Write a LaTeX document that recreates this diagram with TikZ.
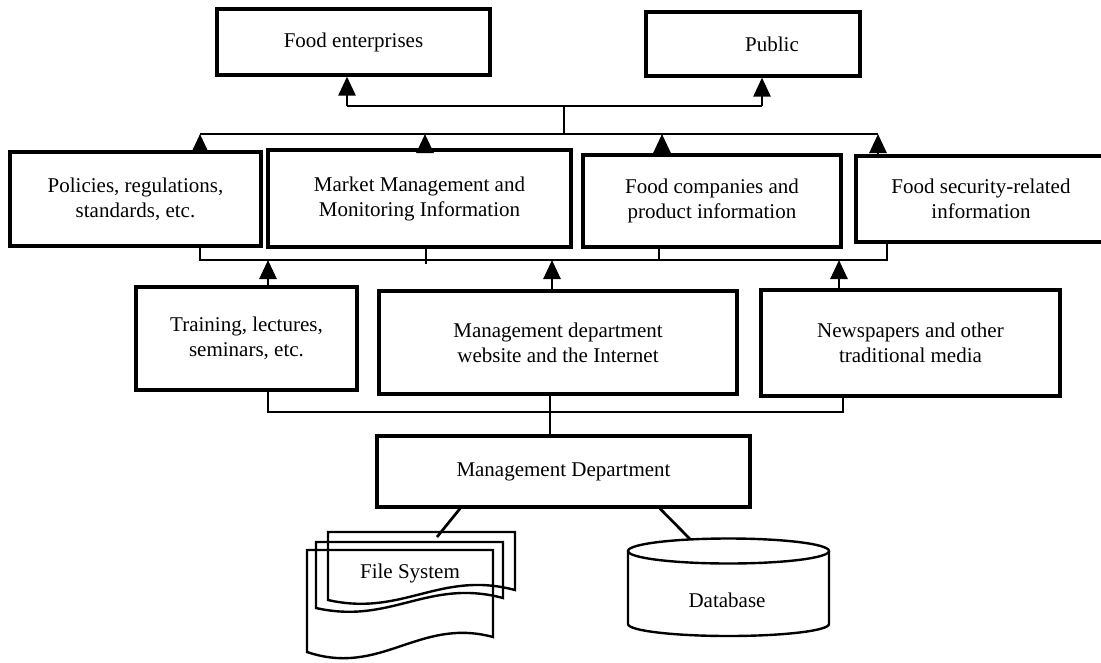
\documentclass[tikz,border=0pt]{standalone}
\usepackage{fontspec}
\setmainfont{Liberation Serif}
\usetikzlibrary{arrows.meta}
\begin{document}
\begin{tikzpicture}[x=1pt,y=-1pt,
  txt/.style={font=\fontsize{21}{25}\selectfont, align=center, inner sep=0pt},
  box/.style={txt, draw, line width=3.2pt},
  link/.style={line width=2.7pt},
  up/.style={line width=2.7pt, -{Triangle[length=19pt,width=17pt]}},
  shapeline/.style={line width=2.4pt}
]
\useasboundingbox (0,0) rectangle (1101,662);

% top row
\node[box, minimum width=273pt, minimum height=66pt] (fe) at (353.5,42) {Food enterprises};
\node[box, minimum width=214pt, minimum height=64pt] (pub) at (753,44) {\hspace*{38pt}Public};

% information row
\node[box, minimum width=251pt, minimum height=94pt] (pol) at (135.5,199) {Policies, regulations,\\standards, etc.};
\node[box, line width=4.2pt, minimum width=303pt, minimum height=97pt] (mkt) at (419.5,198.5) {Market Management and\\Monitoring Information};
\node[box, minimum width=258pt, minimum height=92pt] (fco) at (712,201) {Food companies and\\product information};
\node[box, minimum width=250pt, minimum height=86pt] (fsec) at (981,199) {Food security-related\\information};

% channel row
\node[box, minimum width=221pt, minimum height=103pt] (trn) at (246.5,338.5) {Training, lectures,\\seminars, etc.};
\node[box, minimum width=358pt, minimum height=103pt] (web) at (558,342.5) {Management department\\website and the Internet};
\node[box, minimum width=299pt, minimum height=106pt] (news) at (910.5,343) {Newspapers and other\\traditional media};

% management department
\node[box, minimum width=373pt, minimum height=71pt] (md) at (563.5,471.5) {Management Department};

% bus 1 (to top row)
\coordinate (b1l) at (347,106);
\coordinate (b1r) at (762,106);
\coordinate (b1m) at (564,106);
\draw[link] (b1l) -- (b1r);
\draw[up] (b1l) -- (b1l |- fe.south);
\draw[up] (b1r) -- (b1r |- pub.south);

% bus 2
\coordinate (a1) at (200,134);
\coordinate (a2) at (425,134);
\coordinate (a3) at (662,134);
\coordinate (a4) at (878,134);
\draw[link] (a1) -- (a4);
\draw[link] (b1m) -- (b1m |- a1);
\draw[up] (pol.north -| a1) -- (a1);
\draw[up] (mkt.north -| a2) -- (a2);
\draw[up] (fco.north -| a3) -- (a3);
\draw[up] (fsec.north -| a4) -- (a4);

% bus 3
\coordinate (c1) at (200,260);
\coordinate (c2) at (426,260);
\coordinate (c3) at (659,260);
\coordinate (c4) at (887,260);
\coordinate (d1) at (268,260);
\coordinate (d2) at (552,260);
\coordinate (d3) at (839,260);
\draw[link] (pol.south -| c1) -- (c1) -- (c4) -- (fsec.south -| c4);
\draw[link] (mkt.south -| c2) -- ([yshift=-4pt]c2);
\draw[link] (fco.south -| c3) -- (c3);
\draw[up] (trn.north -| d1) -- (d1);
\draw[up] (web.north -| d2) -- (d2);
\draw[up] (news.north -| d3) -- (d3);

% bus 4
\coordinate (e1) at (268,412);
\coordinate (e2) at (843,412);
\coordinate (e3) at (550,412);
\draw[link] (trn.south -| e1) -- (e1) -- (e2) -- (news.south -| e2);
\draw[link] (web.south -| e3) -- (md.north -| e3);

% file system (stacked documents)
\draw[shapeline] (328,532) -- (515,532) -- (515,590)
  .. controls (440,570) and (403,617) .. (328,600) -- cycle;
\draw[shapeline] (316,542) -- (503,542) -- (503,598)
  .. controls (428,578) and (391,625) .. (316,608) -- cycle;
\draw[shapeline] (307,550) -- (493,550) -- (493,637)
  .. controls (419,617) and (381,677) .. (307,652) -- cycle;
\node[txt] (fs) at (410,573) {File System};
\coordinate (fstop) at (437,537);
\draw[link] ([xshift=-103.5pt]md.south) -- (fstop);

% database (cylinder)
\draw[shapeline] (728.5,551) ellipse [x radius=100.5pt, y radius=12.5pt];
\draw[shapeline] (628,551) -- (628,624)
  arc[start angle=180, end angle=360, x radius=100.5pt, y radius=12pt] -- (829,551);
\node[txt] (db) at (727,600) {Database};
\coordinate (dbtop) at (690,539);
\draw[link] ([xshift=96.5pt]md.south) -- (dbtop);
\end{tikzpicture}
\end{document}
